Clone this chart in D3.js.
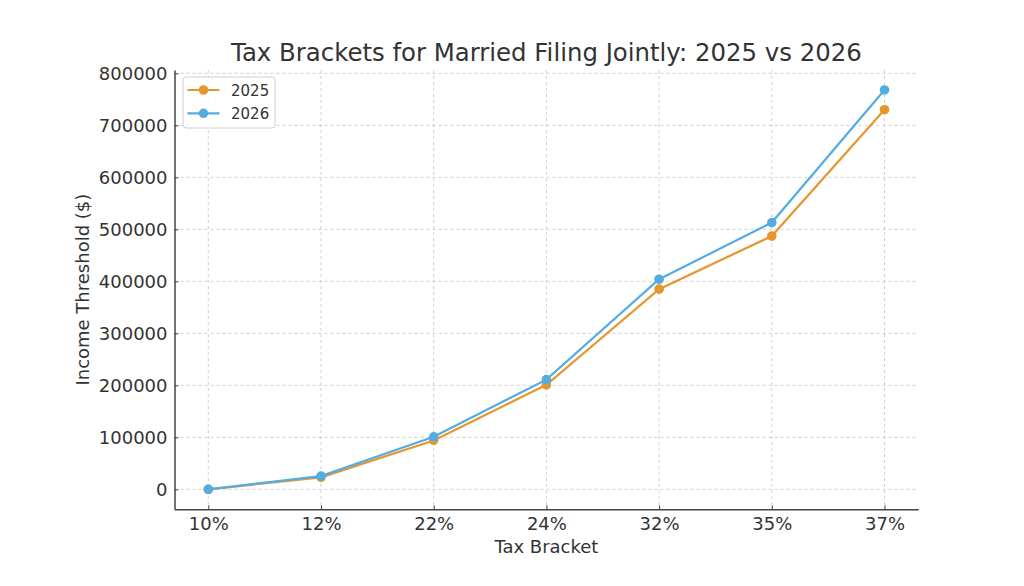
<!DOCTYPE html>
<html><head><meta charset="utf-8">
<script src="https://cdn.jsdelivr.net/npm/d3@7"></script>
<style>
html,body{margin:0;padding:0;background:#fff;}
text{font-family:"DejaVu Sans",sans-serif;fill:#333;}
</style></head>
<body><svg id="c" width="1024" height="586"></svg>
<script>
const brackets = ["10%","12%","22%","24%","32%","35%","37%"];
const values2025 = [0, 23000, 94000, 201000, 385000, 487000, 730000];
const values2026 = [0, 25500, 101000, 211000, 404000, 513000, 768000];
const yTicks = [0,100000,200000,300000,400000,500000,600000,700000,800000];
const seriesNames = ["2025","2026"];
const colors = ["#E5972F","#55ACE0"];

const svg = d3.select("#c");
const L=174.5, R=918.3, T=70, B=509.3;
const x = d3.scaleLinear().domain([-0.3, 6.3]).range([L,R]);
const y = d3.scaleLinear().domain([-38400, 806400]).range([B,T]);

// grid
const g = svg.append("g");
g.selectAll("line.hg").data(yTicks).join("line")
 .attr("x1",L).attr("x2",R).attr("y1",d=>y(d)).attr("y2",d=>y(d))
 .attr("stroke","#c4c4c4").attr("stroke-width",0.8).attr("stroke-dasharray","3,3");
g.selectAll("line.vg").data(brackets).join("line")
 .attr("y1",T).attr("y2",B).attr("x1",(d,i)=>x(i)).attr("x2",(d,i)=>x(i))
 .attr("stroke","#c4c4c4").attr("stroke-width",0.8).attr("stroke-dasharray","3,3");

// axes
const yAxis = d3.axisLeft(y).tickValues(yTicks).tickFormat(d=>String(d)).tickSizeInner(-4).tickSizeOuter(0).tickPadding(7);
const ya = svg.append("g").attr("transform",`translate(${L},0)`).call(yAxis);
const xAxis = d3.axisBottom(x).tickValues(d3.range(brackets.length)).tickFormat(i=>brackets[i]).tickSizeInner(-4).tickSizeOuter(0).tickPadding(8);
const xa = svg.append("g").attr("transform",`translate(0,${B})`).call(xAxis);
[ya,xa].forEach(a=>{
  a.select(".domain").attr("stroke","#444").attr("stroke-width",1.5);
  a.selectAll(".tick line").attr("stroke","#444").attr("stroke-width",1);
  a.selectAll(".tick text").style("font-family","DejaVu Sans").style("font-size","18px").attr("fill","#222");
});

// lines
const series = [values2025, values2026];
const lineGen = d3.line().x((d,i)=>x(i)).y(d=>y(d));
series.forEach((vals,k)=>{
  svg.append("path").datum(vals).attr("d",lineGen).attr("fill","none")
    .attr("stroke",colors[k]).attr("stroke-width",2.2);
  svg.append("g").selectAll("circle").data(vals).join("circle")
    .attr("cx",(d,i)=>x(i)).attr("cy",d=>y(d)).attr("r",4.8).attr("fill",colors[k]);
});

// labels
svg.append("text").attr("x",(L+R)/2).attr("y",61).attr("text-anchor","middle")
  .style("font-size","24.4px").text("Tax Brackets for Married Filing Jointly: 2025 vs 2026");
svg.append("text").attr("x",(L+R)/2).attr("y",553).attr("text-anchor","middle")
  .style("font-size","18px").text("Tax Bracket");
svg.append("text").attr("transform",`translate(89,${(T+B)/2}) rotate(-90)`).attr("text-anchor","middle")
  .style("font-size","18px").text("Income Threshold ($)");

// legend
const lg = svg.append("g");
lg.append("rect").attr("x",183).attr("y",77).attr("width",92).attr("height",51).attr("rx",3)
  .attr("fill","#fff").attr("fill-opacity",0.8).attr("stroke","#d0d0d0").attr("stroke-width",1);
seriesNames.forEach((n,k)=>{
  const cy = 90 + k*23.3;
  lg.append("line").attr("x1",187.5).attr("x2",219.5).attr("y1",cy).attr("y2",cy).attr("stroke",colors[k]).attr("stroke-width",2.2);
  lg.append("circle").attr("cx",203.5).attr("cy",cy).attr("r",4.8).attr("fill",colors[k]);
  lg.append("text").attr("x",231).attr("y",cy+5.5).style("font-size","15px").text(n);
});
</script></body></html>
